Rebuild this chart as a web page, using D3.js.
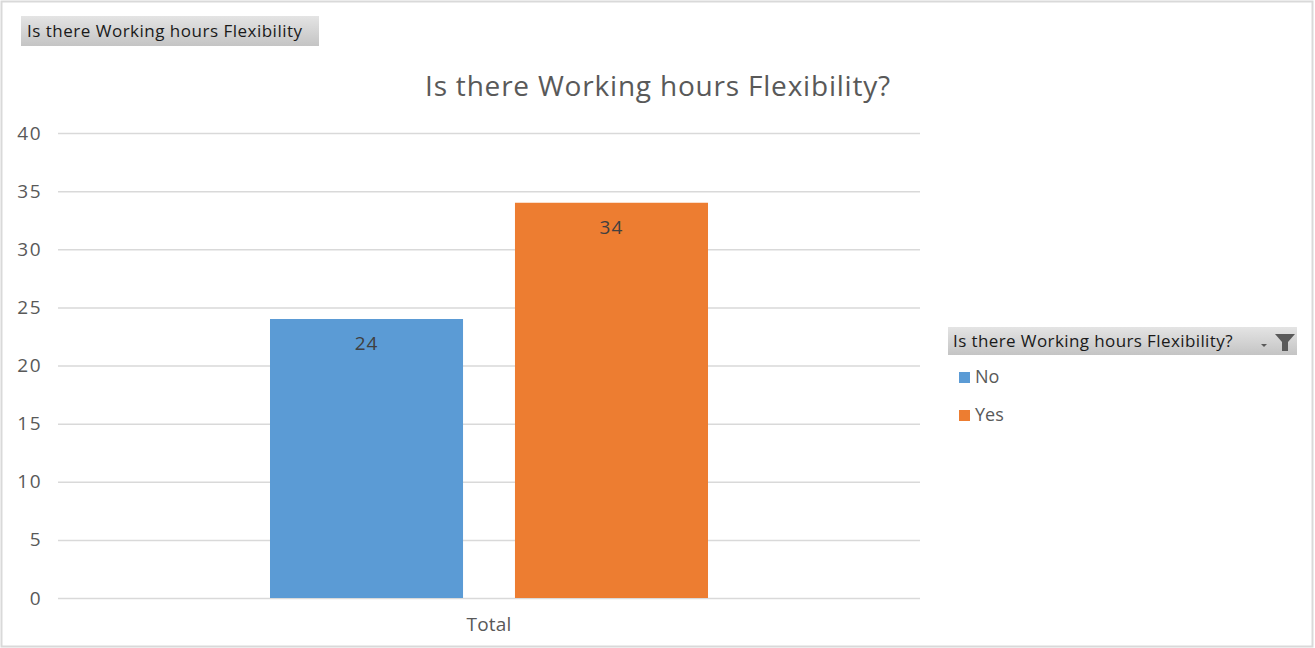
<!DOCTYPE html>
<html>
<head>
<meta charset="utf-8">
<script src="https://cdn.jsdelivr.net/npm/d3@7"></script>
<style>
  body { margin: 0; background: #fff; }
  svg { display: block; }
</style>
</head>
<body>
<div id="chart"></div>
<script>
const categories = ["Total"];
const series = ["No", "Yes"];
const values = { No: [24], Yes: [34] };
const yTicks = [0, 5, 10, 15, 20, 25, 30, 35, 40];
const title = "Is there Working hours Flexibility?";

const width = 1315, height = 648;
const margin = { top: 133, right: 395, bottom: 50, left: 58 };
const font = "'Open Sans', 'Noto Sans', sans-serif";

const svg = d3.select("#chart").append("svg")
  .attr("width", width)
  .attr("height", height);

// outer frame
svg.append("rect")
  .attr("x", 1.5).attr("y", 1.5)
  .attr("width", width - 4).attr("height", height - 3)
  .attr("fill", "#fff")
  .attr("stroke", "#d9d9d9")
  .attr("stroke-width", 2);

const defs = svg.append("defs");
const grad = defs.append("linearGradient")
  .attr("id", "btn").attr("x1", 0).attr("y1", 0).attr("x2", 0).attr("y2", 1);
grad.append("stop").attr("offset", "0%").attr("stop-color", "#e4e4e4");
grad.append("stop").attr("offset", "100%").attr("stop-color", "#c4c4c4");

// pivot field button top-left
svg.append("rect")
  .attr("x", 21).attr("y", 16).attr("width", 298).attr("height", 30)
  .attr("fill", "url(#btn)");
svg.append("text")
  .attr("x", 27).attr("y", 37)
  .attr("font-size", "17px")
  .attr("letter-spacing", "0.5px")
  .style("font-family", font)
  .attr("fill", "#1a1a1a")
  .text("Is there Working hours Flexibility");

// title
svg.append("text")
  .attr("x", 658).attr("y", 96)
  .attr("text-anchor", "middle")
  .attr("font-size", "28px")
  .attr("letter-spacing", "0.8px")
  .style("font-family", font)
  .attr("fill", "#595959")
  .text(title);

const x0 = d3.scaleBand()
  .domain(categories)
  .range([margin.left, width - margin.right])
  .paddingInner(0)
  .paddingOuter(0.484);

const x1 = d3.scaleBand()
  .domain(series)
  .range([0, x0.bandwidth()])
  .paddingInner(0.212)
  .paddingOuter(0);

const y = d3.scaleLinear()
  .domain([0, 40])
  .range([598, margin.top]);

const color = d3.scaleOrdinal()
  .domain(series)
  .range(["#5b9bd5", "#ed7d31"]);

// gridlines
svg.append("g")
  .attr("transform", `translate(${margin.left},0)`)
  .call(d3.axisLeft(y).tickValues(yTicks)
    .tickSize(-(width - margin.right - margin.left)).tickFormat(""))
  .call(g => g.select(".domain").remove())
  .call(g => g.selectAll(".tick line").attr("stroke", "#d9d9d9").attr("stroke-width", 1.5));

// y labels
svg.append("g")
  .attr("transform", `translate(${margin.left},0)`)
  .call(d3.axisLeft(y).tickValues(yTicks).tickSize(0).tickPadding(16))
  .call(g => g.select(".domain").remove())
  .call(g => g.selectAll("text")
    .attr("fill", "#595959")
    .attr("letter-spacing", "1.5px")
    .style("font-size", "19px")
    .style("font-family", font));

// x label
svg.append("g")
  .attr("transform", `translate(0,${y(0)})`)
  .call(d3.axisBottom(x0).tickSize(0).tickPadding(20))
  .call(g => g.select(".domain").remove())
  .call(g => g.selectAll("text")
    .attr("fill", "#595959")
    .attr("letter-spacing", "0.2px")
    .style("font-size", "19px")
    .style("font-family", font));

const rows = categories.map((c, i) => ({
  cat: c,
  vals: series.map(s => ({ key: s, value: values[s][i] }))
}));

const groups = svg.selectAll("g.grp")
  .data(rows)
  .join("g")
  .attr("class", "grp")
  .attr("transform", d => `translate(${x0(d.cat)},0)`);

groups.selectAll("rect")
  .data(d => d.vals)
  .join("rect")
  .attr("x", d => x1(d.key))
  .attr("y", d => y(d.value))
  .attr("width", x1.bandwidth())
  .attr("height", d => y(0) - y(d.value))
  .attr("fill", d => color(d.key));

groups.selectAll("text.lbl")
  .data(d => d.vals)
  .join("text")
  .attr("class", "lbl")
  .attr("x", d => x1(d.key) + x1.bandwidth() / 2)
  .attr("y", d => y(d.value) + 31)
  .attr("text-anchor", "middle")
  .attr("font-size", "19px")
  .attr("letter-spacing", "1px")
  .style("font-family", font)
  .attr("fill", "#404040")
  .text(d => d.value);

// legend
const lg = svg.append("g").attr("transform", "translate(948,327)");
lg.append("rect")
  .attr("width", 349).attr("height", 28)
  .attr("fill", "url(#btn)");
lg.append("text")
  .attr("x", 5).attr("y", 20)
  .attr("font-size", "17px")
  .attr("letter-spacing", "0.4px")
  .style("font-family", font)
  .attr("fill", "#1a1a1a")
  .text(title);
// dropdown caret + filter icon
lg.append("path")
  .attr("d", "M313,17 L319,17 L316,20 Z")
  .attr("fill", "#5a5a5a");
lg.append("path")
  .attr("d", "M327,7 L347,7 L340,15 L340,24 L334,24 L334,15 Z")
  .attr("fill", "#5a5a5a");

const items = lg.selectAll("g.item")
  .data(series)
  .join("g")
  .attr("class", "item")
  .attr("transform", (d, i) => `translate(11,${45 + i * 38})`);
items.append("rect")
  .attr("width", 11).attr("height", 11)
  .attr("fill", d => color(d));
items.append("text")
  .attr("x", 16).attr("y", 11)
  .attr("font-size", "18px")
  .style("font-family", font)
  .attr("fill", "#595959")
  .text(d => d);
</script>
</body>
</html>
